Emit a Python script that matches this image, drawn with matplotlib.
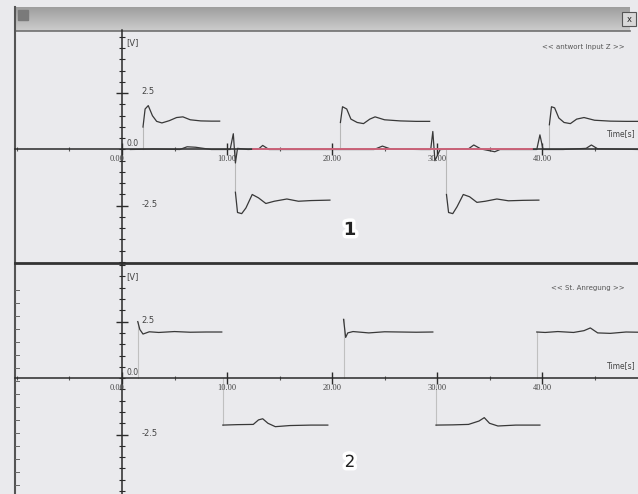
"""Two channel scope view: response (top) and stimulus (bottom)."""
import numpy as np
import matplotlib
matplotlib.use("Agg")
from matplotlib import pyplot as plt
from matplotlib import patheffects as pe

W, H = 638, 494

# time axis ticks
x_ticks = [0, 10, 20, 30, 40]
x_labels = ["0.00", "10.00", "20.00", "30.00", "40.00"]
y_ticks = [-2.5, 2.5]
y_labels = ["-2.5", "2.5"]

# channel 1: response pulses (time [s], volts)
resp_pos1_t = [2.0, 2.2, 2.5, 2.9, 3.3, 3.8, 4.5, 5.2, 5.8, 6.5, 7.5, 8.5, 9.3]
resp_pos1_v = [1.0, 1.8, 1.95, 1.5, 1.25, 1.18, 1.28, 1.42, 1.45, 1.32, 1.27, 1.26, 1.26]
resp_neg1_t = [10.8, 11.0, 11.4, 11.8, 12.4, 13.0, 13.7, 14.5, 15.7, 16.8, 18.0, 19.8]
resp_neg1_v = [-1.9, -2.8, -2.85, -2.6, -2.0, -2.15, -2.4, -2.3, -2.2, -2.3, -2.27, -2.25]
resp_pos2_t = [20.8, 21.0, 21.4, 21.8, 22.4, 23.0, 23.6, 24.1, 25.0, 26.5, 28.0, 29.3]
resp_pos2_v = [1.2, 1.9, 1.8, 1.35, 1.2, 1.15, 1.35, 1.45, 1.32, 1.27, 1.25, 1.25]
resp_neg2_t = [30.9, 31.1, 31.5, 31.9, 32.5, 33.1, 33.8, 34.6, 35.7, 36.8, 38.2, 39.7]
resp_neg2_v = [-2.0, -2.8, -2.85, -2.55, -2.0, -2.1, -2.35, -2.3, -2.2, -2.28, -2.26, -2.25]
resp_pos3_t = [40.7, 40.9, 41.2, 41.6, 42.1, 42.7, 43.3, 44.0, 45.0, 46.5, 48.0, 49.2]
resp_pos3_v = [1.1, 1.9, 1.85, 1.4, 1.2, 1.15, 1.35, 1.42, 1.3, 1.26, 1.25, 1.25]

# channel 1: baseline trace near zero
base_t = [0.8, 3.0, 5.5, 6.2, 7.0, 8.5, 10.3, 10.6, 10.8, 11.0, 12.0, 13.0, 13.4,
          14.0, 18.0, 24.0, 24.8, 25.6, 28.5, 29.4, 29.6, 29.8, 30.3, 33.0, 33.5,
          34.2, 35.5, 36.0, 37.0, 39.5, 39.8, 40.1, 42.0, 44.2, 44.7, 45.3, 49.2]
base_v = [0.0, 0.02, 0.0, 0.12, 0.1, 0.0, 0.0, 0.7, -0.6, 0.05, 0.0, 0.02, 0.18,
          0.0, 0.0, 0.0, 0.15, 0.02, 0.0, 0.0, 0.8, -0.5, 0.0, 0.03, 0.2,
          0.02, -0.1, 0.0, 0.0, 0.0, 0.65, 0.0, 0.0, 0.05, 0.2, 0.03, 0.0]
ref_t = [12.5, 20.0, 28.0, 39.0]
ref_v = [0.0, 0.0, 0.0, 0.0]

# channel 2: stimulus levels
stim_1_t = [1.5, 1.7, 2.0, 2.6, 3.5, 5.0, 6.5, 8.0, 9.5]
stim_1_v = [2.5, 2.15, 1.95, 2.05, 2.02, 2.06, 2.03, 2.04, 2.04]
stim_2_t = [9.6, 11.0, 12.5, 13.0, 13.4, 13.9, 14.6, 16.0, 18.0, 19.6]
stim_2_v = [-2.08, -2.06, -2.05, -1.85, -1.8, -2.0, -2.15, -2.1, -2.08, -2.08]
stim_3_t = [21.1, 21.3, 21.5, 22.0, 23.5, 25.0, 26.5, 28.0, 29.6]
stim_3_v = [2.6, 1.8, 2.0, 2.06, 2.0, 2.05, 2.04, 2.03, 2.04]
stim_4_t = [29.9, 31.5, 33.0, 34.0, 34.5, 35.0, 35.8, 37.5, 39.8]
stim_4_v = [-2.08, -2.07, -2.05, -1.9, -1.75, -2.0, -2.12, -2.08, -2.08]
stim_5_t = [39.5, 40.3, 41.5, 43.0, 44.0, 44.6, 45.3, 46.5, 48.0, 49.2]
stim_5_v = [2.04, 2.02, 2.06, 2.02, 2.1, 2.22, 2.0, 1.98, 2.04, 2.03]

INK = "#2a2a2a"
TRACE = "#383838"
BG = "#eaeaed"


def px(x0, y0, x1, y1):
    """Pixel box -> figure fraction rect."""
    return [x0 / W, 1 - y1 / H, (x1 - x0) / W, (y1 - y0) / H]


def setup_panel(ax, ylim, legend, lbl_y):
    ax.set_xlim(-10.19, 49.14)
    ax.set_ylim(*ylim)
    ax.patch.set_alpha(0)
    for s in ["top", "right"]:
        ax.spines[s].set_visible(False)
    ax.spines["left"].set_position(("data", 0))
    ax.spines["bottom"].set_position(("data", 0))
    for s in ["left", "bottom"]:
        ax.spines[s].set_color(INK)
        ax.spines[s].set_linewidth(1.1)
    ax.set_xticks(x_ticks)
    ax.set_xticks(np.arange(-10, 50, 5), minor=True)
    ax.set_yticks(y_ticks)
    ax.set_yticks(np.arange(-5, 5.01, 0.5), minor=True)
    ax.tick_params(which="both", direction="inout", color=INK,
                   labelleft=False, labelbottom=False)
    ax.tick_params(which="major", length=8, width=1)
    ax.tick_params(which="minor", length=4, width=0.8)
    ax.tick_params(axis="x", which="minor", length=3, color="#555")
    for t, lab in zip(x_ticks, x_labels):
        ha = "right" if t == 0 else "center"
        ax.annotate(lab, (t, 0), xytext=(0 if t else 2, -4),
                    textcoords="offset points", ha=ha, va="top",
                    fontsize=6, color="#444", family="Liberation Serif")
    for v, lab in zip(y_ticks, y_labels):
        ax.annotate(lab, (0, v), xytext=(14, 1), textcoords="offset points",
                    ha="left", va="center", fontsize=6, color="#444")
    ax.annotate("0.0", (0, 0), xytext=(3, 1), textcoords="offset points",
                ha="left", va="bottom", fontsize=5.5, color="#444")
    ax.text(0.4, ylim[1] - 0.55, "[V]", fontsize=6, color="#444",
            ha="left", va="center")
    ax.text(48.9, lbl_y, "Time[s]", fontsize=5.5, color="#444",
            ha="right", va="center")
    ax.text(47.9, legend[1], legend[0], fontsize=5, color="#555",
            ha="right", va="center")


fig = plt.figure(figsize=(W / 100, H / 100), dpi=100)
fig.patch.set_facecolor(BG)

# window chrome
bg = fig.add_axes([0, 0, 1, 1])
bg.set_xlim(0, W)
bg.set_ylim(H, 0)
bg.axis("off")
grad = np.linspace(0.62, 0.80, 24).reshape(-1, 1)
bg.imshow(grad, extent=(15, 630, 31, 7), cmap="gray", vmin=0, vmax=1,
          aspect="auto", origin="upper")
bg.plot([15, 630], [31, 31], color="#707070", lw=1.2)
bg.add_patch(plt.Rectangle((18, 10), 10, 10, color="#7a7a7a"))
bg.add_patch(plt.Rectangle((622, 12), 14, 14, fc="#d8d8d8", ec="#555", lw=0.8))
bg.text(629, 19, "x", ha="center", va="center", fontsize=6, color="#222")
bg.plot([15, 15], [7, H], color="#555", lw=1.5)
bg.plot([15, W], [263, 263], color="#333", lw=2)
for yy in range(290, 494, 13):
    bg.plot([15, 19], [yy, yy], color="#666", lw=0.7)

# channel 1
ax1 = fig.add_axes(px(15, 30, 638, 262))
setup_panel(ax1, (-5.0, 5.31), ("<< antwort Input Z >>", 4.55), 0.7)
ax1.plot(base_t, base_v, color=TRACE, lw=0.9, zorder=3)
ax1.plot(ref_t, ref_v, color="#e36a84", lw=1.2, zorder=4)
for tt, vv in [(resp_pos1_t, resp_pos1_v), (resp_neg1_t, resp_neg1_v),
               (resp_pos2_t, resp_pos2_v), (resp_neg2_t, resp_neg2_v),
               (resp_pos3_t, resp_pos3_v)]:
    ax1.plot([tt[0], tt[0]], [0, vv[0]], color="#b8b8b8", lw=0.8, zorder=2)
    ax1.plot(tt, vv, color=TRACE, lw=0.9, zorder=3)

# channel 2
ax2 = fig.add_axes(px(15, 264, 638, 494))
setup_panel(ax2, (-5.13, 5.05), ("<< St. Anregung >>", 3.98), 0.53)
for tt, vv in [(stim_1_t, stim_1_v), (stim_2_t, stim_2_v), (stim_3_t, stim_3_v),
               (stim_4_t, stim_4_v), (stim_5_t, stim_5_v)]:
    ax2.plot([tt[0], tt[0]], [0, vv[0]], color="#c0c0c0", lw=0.8, zorder=2)
    ax2.plot(tt, vv, color=TRACE, lw=0.9, zorder=3)

halo = [pe.withStroke(linewidth=5, foreground="white")]
fig.text(350 / W, 1 - 230 / H, "1", fontsize=13, fontweight="bold",
         ha="center", va="center", color="#222", path_effects=halo)
fig.text(350 / W, 1 - 462 / H, "2", fontsize=12,
         ha="center", va="center", color="#222", path_effects=halo)

fig.savefig("out.png", dpi=100, facecolor=BG)
